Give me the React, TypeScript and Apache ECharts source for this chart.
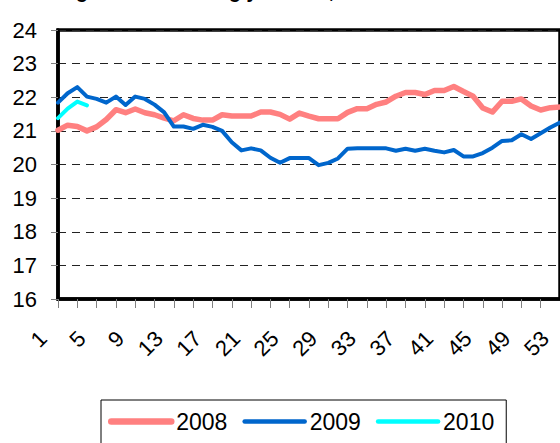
import React, { useEffect, useRef } from "react";
import * as echarts from "echarts";

const weeks = [
  "1","2","3","4","5","6","7","8","9","10","11","12","13","14","15","16","17","18",
  "19","20","21","22","23","24","25","26","27","28","29","30","31","32","33","34","35","36",
  "37","38","39","40","41","42","43","44","45","46","47","48","49","50","51","52","53",
];

const s2008 = [
  21.02, 21.17, 21.13, 21.0, 21.12, 21.34, 21.63, 21.54, 21.65, 21.54, 21.48, 21.38, 21.3,
  21.48, 21.37, 21.32, 21.32, 21.48, 21.44, 21.44, 21.44, 21.56, 21.56, 21.49, 21.35, 21.53,
  21.44, 21.36, 21.36, 21.36, 21.55, 21.66, 21.66, 21.79, 21.86, 22.03, 22.14, 22.14, 22.08,
  22.2, 22.2, 22.32, 22.17, 22.03, 21.68, 21.56, 21.88, 21.88, 21.95, 21.74, 21.62, 21.69, 21.71,
];

const s2009 = [
  21.84, 22.12, 22.3, 22.02, 21.95, 21.84, 22.02, 21.77, 22.02, 21.95, 21.78, 21.55, 21.13,
  21.13, 21.06, 21.18, 21.12, 21.0, 20.66, 20.42, 20.48, 20.42, 20.2, 20.05, 20.19, 20.19,
  20.19, 19.98, 20.05, 20.18, 20.47, 20.48, 20.48, 20.48, 20.48, 20.41, 20.47, 20.41, 20.47,
  20.41, 20.36, 20.43, 20.24, 20.24, 20.34, 20.5, 20.7, 20.72, 20.9, 20.76, 20.93, 21.1, 21.25,
];

const s2010 = [21.38, 21.66, 21.87, 21.76];

const seriesNames = ["2008", "2009", "2010"];
const titleText = "Average indoor heating year rate, °C";

const FONT = "'Liberation Sans', Arial, sans-serif";

const COLORS = ["#FF8080", "#0066CC", "#00FFFF"];
const WIDTHS = [5.5, 4, 4];

export default function App() {
  const ref = useRef<HTMLDivElement>(null);
  useEffect(() => {
    if (!ref.current) return;
    const chart = echarts.init(ref.current, undefined, { renderer: "svg" });
    chart.setOption({
      animation: false,
      backgroundColor: "#ffffff",
      graphic: [
        {
          type: "text",
          left: 22,
          top: -19,
          style: {
            text: titleText,
            font: `bold 19.7px ${FONT}`,
            fill: "#000",
          },
        },
      ],
      grid: {
        left: 58,
        top: 30,
        width: 505.4,
        height: 269,
        show: true,
        borderColor: "#000",
        borderWidth: 3.5,
        backgroundColor: "#fff",
      },
      legend: {
        data: seriesNames.map((n, i) => ({
          name: n,
          lineStyle: { width: i === 0 ? 6.5 : 4.5, color: COLORS[i], cap: "round" },
        })),
        left: 101,
        top: 400,
        padding: [10, 12, 30, 7],
        borderColor: "#000",
        borderWidth: 1,
        borderRadius: 0,
        itemWidth: 60,
        itemHeight: 14,
        itemGap: 15,
        itemStyle: { opacity: 0 },
        textStyle: { fontSize: 23, color: "#000", fontFamily: FONT },
      },
      xAxis: {
        type: "category",
        data: weeks,
        boundaryGap: false,
        axisLine: { show: true, lineStyle: { color: "#000", width: 3.5 } },
        axisTick: { show: true, interval: 1, length: 9, lineStyle: { color: "#808080", width: 1 } },
        axisLabel: {
          interval: 3,
          rotate: 45,
          margin: 21,
          padding: [0, 21, 0, 0],
          fontSize: 22,
          color: "#000",
          fontFamily: FONT,
        },
        splitLine: { show: false },
      },
      yAxis: {
        type: "value",
        min: 16,
        max: 24,
        interval: 1,
        axisLine: { show: true, lineStyle: { color: "#000", width: 3.5 } },
        axisTick: { show: true, length: 7, lineStyle: { color: "#808080", width: 1 } },
        axisLabel: { margin: 21, fontSize: 22, color: "#000", fontFamily: FONT },
        splitLine: {
          show: true,
          lineStyle: { color: "#222", width: 1, type: [8, 6] },
        },
      },
      series: [
        {
          name: seriesNames[0],
          type: "line",
          data: s2008,
          symbol: "none",
          itemStyle: { color: COLORS[0] },
          lineStyle: { color: COLORS[0], width: WIDTHS[0], cap: "round", join: "round" },
        },
        {
          name: seriesNames[1],
          type: "line",
          data: s2009,
          symbol: "none",
          itemStyle: { color: COLORS[1] },
          lineStyle: { color: COLORS[1], width: WIDTHS[1], cap: "round", join: "round" },
        },
        {
          name: seriesNames[2],
          type: "line",
          data: s2010,
          symbol: "none",
          itemStyle: { color: COLORS[2] },
          lineStyle: { color: COLORS[2], width: WIDTHS[2], cap: "round", join: "round" },
        },
      ],
    });
    return () => chart.dispose();
  }, []);
  return (
    <div
      ref={ref}
      style={{ position: "absolute", left: 0, top: 0, width: 560, height: 443 }}
    />
  );
}
